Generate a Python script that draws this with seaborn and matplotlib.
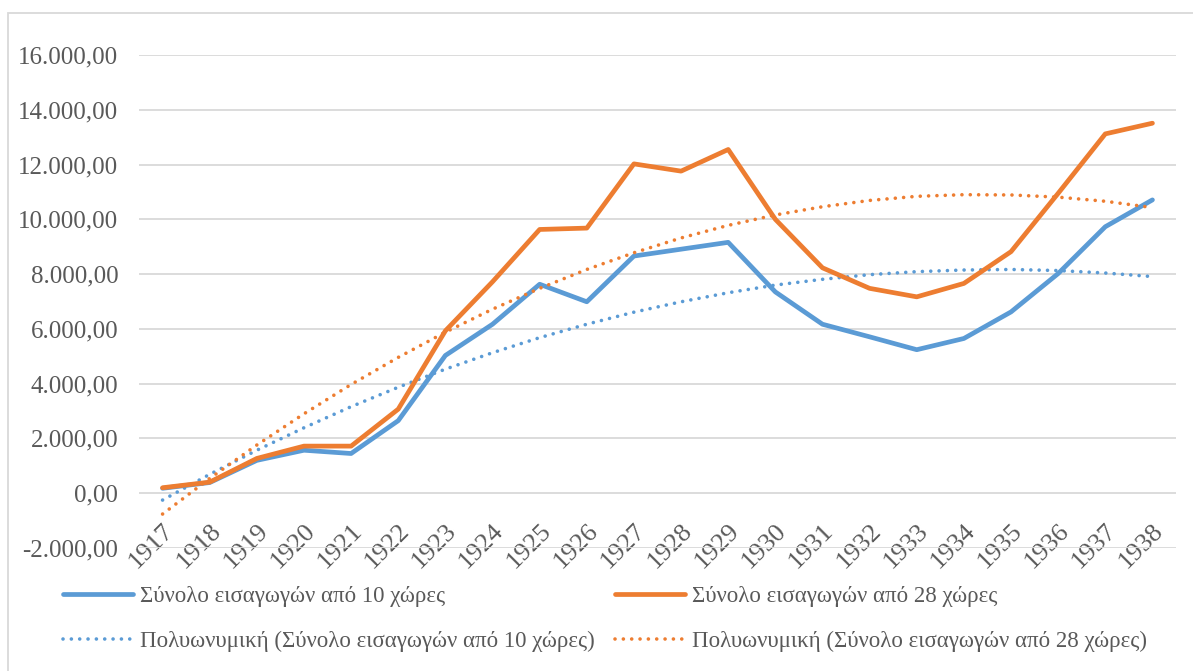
import numpy as np
import pandas as pd
import matplotlib
matplotlib.use('Agg')
import matplotlib.pyplot as plt
import seaborn as sns
from matplotlib.ticker import FuncFormatter

# data
years = list(range(1917, 1939))
imports_10 = [180, 390, 1200, 1570, 1450, 2650, 5030, 6170, 7630, 6990, 8660,
              8910, 9160, 7350, 6170, 5710, 5240, 5650, 6620, 8020, 9730, 10710]
imports_28 = [200, 405, 1270, 1720, 1720, 3070, 5930, 7720, 9630, 9680, 12025,
              11760, 12550, 10000, 8230, 7480, 7170, 7660, 8820, 10950, 13120, 13510]
# polynomial trendlines as drawn in the reference
trend_10 = [-250, 690, 1570, 2390, 3160, 3870, 4530, 5130, 5680, 6170, 6610,
            6990, 7320, 7600, 7810, 7980, 8090, 8150, 8170, 8130, 8040, 7910]
trend_28 = [-760, 540, 1760, 2900, 3970, 4960, 5880, 6720, 7480, 8170, 8780,
            9320, 9780, 10160, 10460, 10690, 10840, 10900, 10890, 10810, 10660, 10430]

lbl_10 = 'Σύνολο εισαγωγών από 10 χώρες'
lbl_28 = 'Σύνολο εισαγωγών από 28 χώρες'
lbl_t10 = 'Πολυωνυμική (Σύνολο εισαγωγών από 10 χώρες)'
lbl_t28 = 'Πολυωνυμική (Σύνολο εισαγωγών από 28 χώρες)'

df = pd.DataFrame({'year': years, lbl_10: imports_10, lbl_28: imports_28,
                   lbl_t10: trend_10, lbl_t28: trend_28})

blue = '#5B9BD5'
orange = '#ED7D31'
grey = '#595959'

sns.set_style('white')
plt.rcParams['font.family'] = ['Liberation Serif', 'DejaVu Serif']

fig = plt.figure(figsize=(11.93, 6.71), dpi=100)
ax = fig.add_axes([139 / 1193, 1 - 548 / 671, 1037 / 1193, 493 / 671])

dots = (0, (0.01, 2.3))
sns.lineplot(data=df, x='year', y=lbl_10, ax=ax, color=blue, lw=3.4,
             label=lbl_10, solid_capstyle='round', solid_joinstyle='round')
sns.lineplot(data=df, x='year', y=lbl_t10, ax=ax, color=blue, lw=2.6,
             label=lbl_t10, linestyle=dots, dash_capstyle='round')
sns.lineplot(data=df, x='year', y=lbl_28, ax=ax, color=orange, lw=3.4,
             label=lbl_28, solid_capstyle='round', solid_joinstyle='round')
sns.lineplot(data=df, x='year', y=lbl_t28, ax=ax, color=orange, lw=2.6,
             label=lbl_t28, linestyle=dots, dash_capstyle='round')

ax.set_xlim(1916.5, 1938.5)
ax.set_ylim(-2000, 16000)
ax.set_yticks(np.arange(-2000, 16001, 2000))
ax.set_xticks(years)


def greek_fmt(v, pos):
    s = f'{v:,.2f}'
    return s.replace(',', 'X').replace('.', ',').replace('X', '.')


ax.yaxis.set_major_formatter(FuncFormatter(greek_fmt))
ax.grid(axis='y', color='#D9D9D9', lw=1.3)
ax.set_axisbelow(True)
for side in ['left', 'right', 'top']:
    ax.spines[side].set_visible(False)
ax.spines['bottom'].set_position(('data', 0))
ax.spines['bottom'].set_visible(False)
ax.tick_params(axis='y', length=0, pad=15, labelsize=18, labelcolor=grey)
ax.tick_params(axis='x', length=0, pad=19, labelsize=19, labelcolor=grey)
for t in ax.get_xticklabels():
    t.set_rotation(45)
    t.set_ha('right')
    t.set_va('top')
    t.set_rotation_mode('anchor')
ax.set_xlabel('')
ax.set_ylabel('')

handles, labels = ax.get_legend_handles_labels()
ax.get_legend().remove()
fig.legend(handles, labels, loc='upper left', bbox_to_anchor=(63 / 1193, 1 - 586 / 671),
           ncol=2, frameon=False, fontsize=16.5, labelcolor=grey,
           handlelength=3.05, handletextpad=0.3, columnspacing=0.9,
           labelspacing=1.05, borderpad=0, borderaxespad=0)

# chart-area border (only left and top edges fall inside the image)
fig.patches.append(plt.Rectangle((8 / 1193, -0.05), 1.2, 1.05 - 13 / 671,
                                 transform=fig.transFigure, fill=False,
                                 edgecolor='#D9D9D9', lw=1.3))

fig.savefig('out.png', dpi=100)
